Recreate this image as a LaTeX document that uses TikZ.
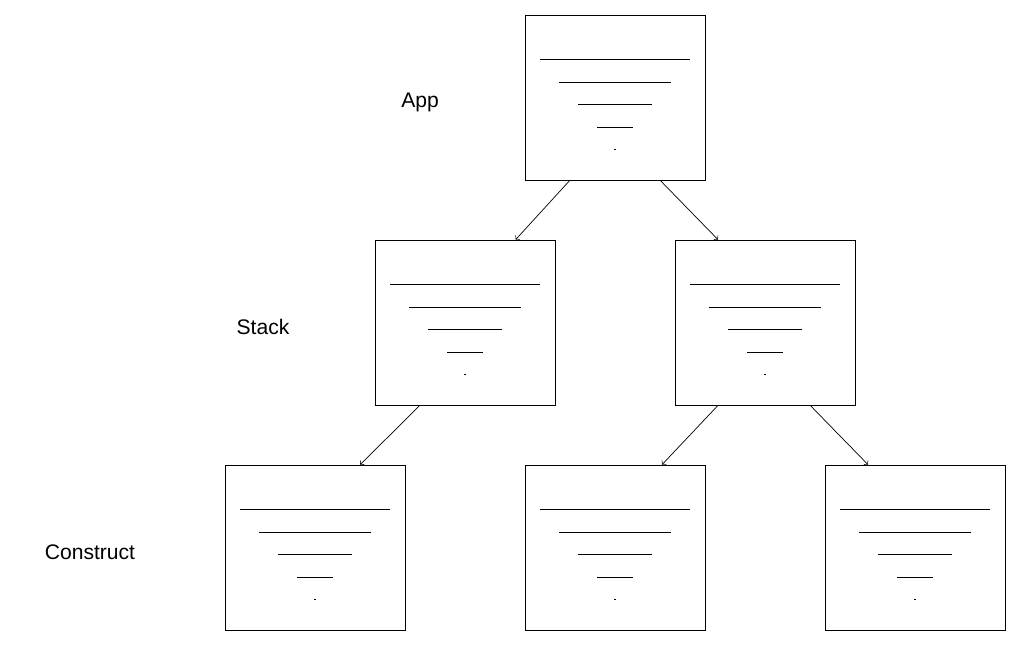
\documentclass[tikz,border=0pt]{standalone}
\usepackage{fontspec}
\setmainfont{Liberation Sans}
\usetikzlibrary{calc}
\begin{document}
\begin{tikzpicture}[x=0.02cm,y=-0.02cm,
    box/.style={rectangle, draw, minimum width=3.6cm, minimum height=3.3cm, inner sep=0pt},
    lvl/.style={font=\large}]
    \useasboundingbox (0,0) rectangle (1023,647);
    % ボックス
    \node[box] (app) at (615,97.5) {};
    \node[box] (stA) at (465,322.5) {};
    \node[box] (stB) at (765,322.5) {};
    \node[box] (coA) at (315,547.5) {};
    \node[box] (coB) at (615,547.5) {};
    \node[box] (coC) at (915,547.5) {};

    % 中の線
    \foreach \b in {app,stA,stB,coA,coB,coC}{
        \draw ($(\b.north)+(-75,45)$) -- ++(150,0);
        \draw ($(\b.north)+(-56,68)$) -- ++(112,0);
        \draw ($(\b.north)+(-37,90)$) -- ++(74,0);
        \draw ($(\b.north)+(-18,113)$) -- ++(36,0);
        \draw ($(\b.north)+(-1,135)$) -- ++(2,0);
    }

    % ラベル
    \node[lvl] (lApp) at (420,102) {App};
    \node[lvl] (lStack) at (263,327) {Stack};
    \node[lvl] (lCons) at (90,552) {Construct};

    % 矢印
    \draw[->] ($(app.south west)!0.25!(app.south east)$) -- ($(stA.north west)!0.78!(stA.north east)$);
    \draw[->] ($(app.south west)!0.75!(app.south east)$) -- ($(stB.north west)!0.24!(stB.north east)$);
    \draw[->] ($(stA.south west)!0.25!(stA.south east)$) -- ($(coA.north west)!0.75!(coA.north east)$);
    \draw[->] ($(stB.south west)!0.24!(stB.south east)$) -- ($(coB.north west)!0.76!(coB.north east)$);
    \draw[->] ($(stB.south west)!0.75!(stB.south east)$) -- ($(coC.north west)!0.24!(coC.north east)$);
\end{tikzpicture}
\end{document}
